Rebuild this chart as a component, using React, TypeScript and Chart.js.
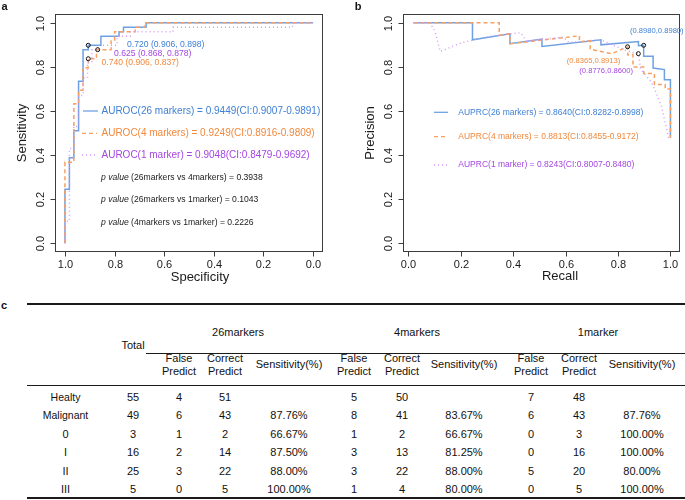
import React, { useEffect, useRef } from 'react';
import { Chart, registerables } from 'chart.js';
Chart.register(...registerables);

// ---------------- DATA ----------------
// ROC (panel a): specificity / sensitivity
const rocSpec26 = [1, 1, 0.982, 0.982, 0.964, 0.964, 0.945, 0.945, 0.927, 0.927, 0.906, 0.906, 0.855, 0.855, 0.782, 0.782, 0.764, 0.764, 0.673, 0.673, 0];
const rocSens26 = [0, 0.245, 0.245, 0.388, 0.388, 0.51, 0.51, 0.735, 0.735, 0.878, 0.878, 0.898, 0.898, 0.939, 0.939, 0.959, 0.959, 0.98, 0.98, 1.0, 1.0];
const rocSpec4 = [1, 1, 0.964, 0.964, 0.945, 0.945, 0.927, 0.927, 0.906, 0.906, 0.873, 0.873, 0.814, 0.814, 0.8, 0.8, 0.717, 0.717, 0.677, 0.677, 0];
const rocSens4 = [0, 0.367, 0.367, 0.633, 0.633, 0.694, 0.694, 0.796, 0.796, 0.837, 0.837, 0.878, 0.878, 0.918, 0.918, 0.959, 0.959, 0.98, 0.98, 1.0, 1.0];
const rocSpec1 = [1, 1, 0.982, 0.982, 0.964, 0.964, 0.945, 0.945, 0.927, 0.927, 0.909, 0.909, 0.891, 0.891, 0.868, 0.868, 0.79, 0.79, 0.737, 0.737, 0.564, 0.564, 0.083, 0.083, 0];
const rocSens1 = [0, 0.1, 0.1, 0.43, 0.43, 0.53, 0.53, 0.67, 0.67, 0.75, 0.75, 0.82, 0.82, 0.878, 0.878, 0.898, 0.898, 0.939, 0.939, 0.959, 0.959, 0.98, 0.98, 1.0, 1.0];
const rocThrSpec = [0.906, 0.868, 0.906];
const rocThrSens = [0.898, 0.878, 0.837];
const rocThrLabels = ['0.720 (0.906, 0.898)', '0.625 (0.868, 0.878)', '0.740 (0.906, 0.837)'];
const rocLegend = [
  'AUROC(26 markers) = 0.9449(CI:0.9007-0.9891)',
  'AUROC(4 markers) = 0.9249(CI:0.8916-0.9809)',
  'AUROC(1 marker) = 0.9048(CI:0.8479-0.9692)',
];
const pValueLabels = [
  '(26markers vs 4markers) = 0.3938',
  '(26markers vs 1marker) = 0.1043',
  '(4markers vs 1marker) = 0.2226',
];

// PR (panel b): recall / precision
const prRec26 = [0.02, 0.245, 0.245, 0.388, 0.388, 0.51, 0.51, 0.735, 0.735, 0.878, 0.878, 0.898, 0.898, 0.934, 0.934, 0.977, 0.977, 1.0, 1.0];
const prPrec26 = [1.0, 1.0, 0.923, 0.95, 0.905, 0.926, 0.893, 0.923, 0.9, 0.915, 0.896, 0.898, 0.848, 0.848, 0.795, 0.788, 0.742, 0.742, 0.48];
const prRec4 = [0.02, 0.347, 0.347, 0.388, 0.388, 0.653, 0.653, 0.694, 0.694, 0.776, 0.837, 0.837, 0.857, 0.857, 0.898, 0.898, 0.939, 0.939, 0.98, 0.98, 1.0, 1.0];
const prPrec4 = [1.0, 1.0, 0.944, 0.95, 0.905, 0.941, 0.914, 0.919, 0.88, 0.86, 0.891, 0.854, 0.857, 0.8, 0.8, 0.77, 0.77, 0.72, 0.72, 0.7, 0.7, 0.48];
const prRec1 = [0.02, 0.082, 0.102, 0.122, 0.204, 0.306, 0.429, 0.449, 0.592, 0.612, 0.735, 0.776, 0.837, 0.878, 0.886, 0.928, 0.953, 0.966, 0.985, 0.995];
const prPrec1 = [1.0, 1.0, 0.962, 0.87, 0.91, 0.938, 0.955, 0.917, 0.935, 0.91, 0.923, 0.9, 0.872, 0.86, 0.79, 0.73, 0.66, 0.62, 0.52, 0.47];
const prThrRec = [0.898, 0.8365, 0.8776];
const prThrPrec = [0.898, 0.8913, 0.86];
const prThrLabels = ['(0.8980,0.8980)', '(0.8365,0.8913)', '(0.8776,0.8600)'];
const prLegend = [
  'AUPRC(26 markers) = 0.8640(CI:0.8282-0.8998)',
  'AUPRC(4 markers) = 0.8813(CI:0.8455-0.9172)',
  'AUPRC(1 marker) = 0.8243(CI:0.8007-0.8480)',
];

const rocXTicks = [1.0, 0.8, 0.6, 0.4, 0.2, 0.0];
const rocXTickLabels = ['1.0', '0.8', '0.6', '0.4', '0.2', '0.0'];
const prXTicks = [0.0, 0.2, 0.4, 0.6, 0.8, 1.0];
const prXTickLabels = ['0.0', '0.2', '0.4', '0.6', '0.8', '1.0'];
const yTicks = [0.0, 0.2, 0.4, 0.6, 0.8, 1.0];
const yTickLabels = ['0.0', '0.2', '0.4', '0.6', '0.8', '1.0'];

// Table (panel c)
const groups = ['26markers', '4markers', '1marker'];
const rowNames = ['Healty', 'Malignant', '0', 'I', 'II', 'III'];
const totals = ['55', '49', '3', '16', '25', '5'];
const false26 = ['4', '6', '1', '2', '3', '0'];
const correct26 = ['51', '43', '2', '14', '22', '5'];
const sensPct26 = ['', '87.76%', '66.67%', '87.50%', '88.00%', '100.00%'];
const false4 = ['5', '8', '1', '3', '3', '1'];
const correct4 = ['50', '41', '2', '13', '22', '4'];
const sensPct4 = ['', '83.67%', '66.67%', '81.25%', '88.00%', '80.00%'];
const false1 = ['7', '6', '0', '0', '5', '0'];
const correct1 = ['48', '43', '3', '16', '20', '5'];
const sensPct1 = ['', '87.76%', '100.00%', '100.00%', '80.00%', '100.00%'];

// ---------------- STYLE ----------------
const FONT = '"Liberation Sans", Arial, Helvetica, sans-serif';
const BLUE = '#6fa1e2';
const BLUE_TXT = '#3f80d4';
const ORANGE = '#f6a062';
const ORANGE_TXT = '#f2883c';
const PURPLE = '#d49cf6';
const PURPLE_TXT = '#a446e2';
const DASH = [4, 3];
const DOT = [1, 3];

type TextItem = { text: string; x: number; y: number; color?: string; size?: number; align?: CanvasTextAlign; rotate?: boolean; italicPrefix?: string };
type LegendSample = { x1: number; x2: number; y: number; color: string; dash: number[] };
type DecorCfg = {
  offsetX: number;
  xTicks: number[];
  xLabels: string[];
  texts: TextItem[];
  samples: LegendSample[];
};

function makeDecor(cfg: DecorCfg) {
  return {
    id: 'decor',
    afterDraw(chart: any) {
      const ctx: CanvasRenderingContext2D = chart.ctx;
      const a = chart.chartArea;
      const xs = chart.scales.x;
      const ys = chart.scales.y;
      ctx.save();
      ctx.strokeStyle = '#3c3c3c';
      ctx.lineWidth = 1;
      ctx.setLineDash([]);
      const L = Math.round(a.left) + 0.5, T = Math.round(a.top) + 0.5;
      const R = Math.round(a.right) - 0.5, B = Math.round(a.bottom) - 0.5;
      ctx.strokeRect(L, T, R - L, B - T);
      ctx.fillStyle = '#1a1a1a';
      ctx.font = `11px ${FONT}`;
      ctx.textAlign = 'center';
      ctx.textBaseline = 'middle';
      cfg.xTicks.forEach((v, i) => {
        const px = Math.round(xs.getPixelForValue(v)) + 0.5;
        ctx.beginPath();
        ctx.moveTo(px, B);
        ctx.lineTo(px, B + 5);
        ctx.stroke();
        ctx.fillText(cfg.xLabels[i], px, B + 13);
      });
      yTicks.forEach((v, i) => {
        const py = Math.round(ys.getPixelForValue(v)) + 0.5;
        ctx.beginPath();
        ctx.moveTo(L, py);
        ctx.lineTo(L - 5, py);
        ctx.stroke();
        ctx.save();
        ctx.translate(L - 15, py);
        ctx.rotate(-Math.PI / 2);
        ctx.fillText(yTickLabels[i], 0, 0);
        ctx.restore();
      });
      cfg.samples.forEach((s) => {
        ctx.save();
        ctx.strokeStyle = s.color;
        ctx.lineWidth = 1.3;
        ctx.setLineDash(s.dash);
        ctx.beginPath();
        ctx.moveTo(s.x1 - cfg.offsetX, s.y);
        ctx.lineTo(s.x2 - cfg.offsetX, s.y);
        ctx.stroke();
        ctx.restore();
      });
      cfg.texts.forEach((t) => {
        ctx.save();
        ctx.fillStyle = t.color || '#1a1a1a';
        ctx.textBaseline = 'middle';
        ctx.textAlign = t.align || 'left';
        const size = t.size || 10;
        const x = t.x - cfg.offsetX;
        if (t.rotate) {
          ctx.translate(x, t.y);
          ctx.rotate(-Math.PI / 2);
          ctx.font = `${size}px ${FONT}`;
          ctx.fillText(t.text, 0, 0);
        } else if (t.italicPrefix) {
          ctx.font = `italic ${size}px ${FONT}`;
          ctx.textAlign = 'left';
          ctx.fillText(t.italicPrefix, x, t.y);
          const w = ctx.measureText(t.italicPrefix + ' ').width;
          ctx.font = `${size}px ${FONT}`;
          ctx.fillText(t.text, x + w, t.y);
        } else {
          ctx.font = `${size}px ${FONT}`;
          ctx.fillText(t.text, x, t.y);
        }
        ctx.restore();
      });
      ctx.restore();
    },
  };
}

function series(xv: number[], yv: number[], color: string, dash: number[], order: number, width = 1.4) {
  return {
    data: xv.map((x, i) => ({ x, y: yv[i] })),
    borderColor: color,
    borderWidth: width,
    borderDash: dash,
    pointRadius: 0,
    fill: false,
    tension: 0,
    order,
  };
}

function thresholdPoints(xv: number[], yv: number[]) {
  return {
    data: xv.map((x, i) => ({ x, y: yv[i] })),
    showLine: false,
    pointRadius: 2,
    pointBorderWidth: 1,
    pointBorderColor: '#111',
    pointBackgroundColor: 'rgba(0,0,0,0)',
    order: 0,
  };
}

function buildChart(canvas: HTMLCanvasElement, datasets: any[], pad: any, x: any, decor: any) {
  return new Chart(canvas, {
    type: 'line',
    data: { datasets },
    options: {
      responsive: false,
      animation: false,
      devicePixelRatio: 1,
      events: [],
      layout: { padding: pad },
      plugins: { legend: { display: false }, tooltip: { enabled: false }, title: { display: false } },
      scales: {
        x: { type: 'linear', display: false, ...x },
        y: { type: 'linear', display: false, min: -0.04, max: 1.04 },
      },
    } as any,
    plugins: [decor],
  });
}

export default function App() {
  const refA = useRef<HTMLCanvasElement>(null);
  const refB = useRef<HTMLCanvasElement>(null);

  useEffect(() => {
    const colors = [BLUE_TXT, PURPLE_TXT, ORANGE_TXT];
    const decorA = makeDecor({
      offsetX: 0,
      xTicks: rocXTicks,
      xLabels: rocXTickLabels,
      samples: [
        { x1: 83, x2: 98, y: 111, color: BLUE, dash: [] },
        { x1: 82, x2: 97, y: 133.3, color: ORANGE, dash: DASH },
        { x1: 82, x2: 97, y: 155, color: PURPLE, dash: DOT },
      ],
      texts: [
        { text: rocThrLabels[0], x: 127, y: 44.5, color: colors[0], size: 8.6 },
        { text: rocThrLabels[1], x: 114, y: 53.5, color: colors[1], size: 8.6 },
        { text: rocThrLabels[2], x: 101.5, y: 62.5, color: colors[2], size: 8.6 },
        { text: rocLegend[0], x: 101.5, y: 111, color: BLUE_TXT, size: 10 },
        { text: rocLegend[1], x: 101.5, y: 133.3, color: ORANGE_TXT, size: 10 },
        { text: rocLegend[2], x: 101.5, y: 155, color: PURPLE_TXT, size: 10 },
        { text: pValueLabels[0], italicPrefix: 'p value', x: 101, y: 177.7, size: 8.6 },
        { text: pValueLabels[1], italicPrefix: 'p value', x: 101, y: 200, size: 8.6 },
        { text: pValueLabels[2], italicPrefix: 'p value', x: 101, y: 222.3, size: 8.6 },
        { text: 'Specificity', x: 200, y: 277, size: 13, align: 'center' },
        { text: 'Sensitivity', x: 22, y: 133, size: 13, align: 'center', rotate: true },
      ],
    });
    const chartA = buildChart(
      refA.current!,
      [
        series(rocSpec26, rocSens26, BLUE, [], 3, 1.5),
        series(rocSpec4, rocSens4, ORANGE, DASH, 2, 1.5),
        series(rocSpec1, rocSens1, PURPLE, DOT, 1, 1.5),
        thresholdPoints(rocThrSpec, rocThrSens),
      ],
      { left: 55, right: 19, top: 14, bottom: 38 },
      { min: -0.04, max: 1.04, reverse: true },
      decorA
    );

    const decorB = makeDecor({
      offsetX: 342,
      xTicks: prXTicks,
      xLabels: prXTickLabels,
      samples: [
        { x1: 434, x2: 448, y: 112.3, color: BLUE, dash: [] },
        { x1: 434, x2: 448, y: 136.7, color: ORANGE, dash: DASH },
        { x1: 434, x2: 448, y: 165, color: PURPLE, dash: DOT },
      ],
      texts: [
        { text: prThrLabels[0], x: 630, y: 30.7, color: BLUE_TXT, size: 7.6 },
        { text: prThrLabels[1], x: 566.7, y: 61, color: ORANGE_TXT, size: 7.6 },
        { text: prThrLabels[2], x: 579.3, y: 71, color: PURPLE_TXT, size: 7.6 },
        { text: prLegend[0], x: 458.3, y: 112.3, color: BLUE_TXT, size: 8.5 },
        { text: prLegend[1], x: 458.3, y: 136.7, color: ORANGE_TXT, size: 8.5 },
        { text: prLegend[2], x: 458.3, y: 165, color: PURPLE_TXT, size: 8.5 },
        { text: 'Recall', x: 560, y: 276, size: 13, align: 'center' },
        { text: 'Precision', x: 370, y: 133, size: 13, align: 'center', rotate: true },
      ],
    });
    const chartB = buildChart(
      refB.current!,
      [
        series(prRec26, prPrec26, BLUE, [], 3, 1.5),
        series(prRec4, prPrec4, ORANGE, DASH, 2, 1.5),
        series(prRec1, prPrec1, PURPLE, DOT, 1, 1.5),
        thresholdPoints(prThrRec, prThrPrec),
      ],
      { left: 61, right: 1, top: 14, bottom: 38 },
      { min: -0.02, max: 1.0365 },
      decorB
    );
    return () => {
      chartA.destroy();
      chartB.destroy();
    };
  }, []);

  const rowY = [397, 415.4, 433.8, 452.2, 470.6, 489];
  const colX = { name: 65.5, total: 133 };
  const groupCols = [
    { f: 179, c: 225, s: 289, gx: 238, fv: false26, cv: correct26, sv: sensPct26 },
    { f: 354, c: 402, s: 464, gx: 417, fv: false4, cv: correct4, sv: sensPct4 },
    { f: 531, c: 579, s: 642, gx: 598, fv: false1, cv: correct1, sv: sensPct1 },
  ];
  const cell = (text: string, x: number, y: number, key: string, extra: any = {}) => (
    <div
      key={key}
      style={{
        position: 'absolute',
        left: x,
        top: y,
        transform: 'translate(-50%, -50%)',
        whiteSpace: 'nowrap',
        fontSize: 11,
        lineHeight: '13px',
        color: '#111',
        textAlign: 'center',
        ...extra,
      }}
    >
      {text}
    </div>
  );
  const rule = (top: number, left: number, h: number, key: string) => (
    <div key={key} style={{ position: 'absolute', top, left, width: 685 - left, height: h, background: '#1a1a1a' }} />
  );

  const cells: any[] = [];
  groupCols.forEach((g, gi) => {
    cells.push(cell(groups[gi], g.gx, 332, `g${gi}`));
    cells.push(cell('False', g.f, 357.5, `hf${gi}`));
    cells.push(cell('Predict', g.f, 370.5, `hf2${gi}`));
    cells.push(cell('Correct', g.c, 357.5, `hc${gi}`));
    cells.push(cell('Predict', g.c, 370.5, `hc2${gi}`));
    cells.push(cell('Sensitivity(%)', g.s, 364, `hs${gi}`));
    rowNames.forEach((_, ri) => {
      cells.push(cell(g.fv[ri], g.f, rowY[ri], `f${gi}-${ri}`));
      cells.push(cell(g.cv[ri], g.c, rowY[ri], `c${gi}-${ri}`));
      if (g.sv[ri]) cells.push(cell(g.sv[ri], g.s, rowY[ri], `s${gi}-${ri}`));
    });
  });
  rowNames.forEach((n, ri) => {
    cells.push(cell(n, colX.name, rowY[ri], `n${ri}`, ri < 2 ? { fontSize: 10.5 } : {}));
    cells.push(cell(totals[ri], colX.total, rowY[ri], `t${ri}`));
  });
  cells.push(cell('Total', colX.total, 345, 'total'));

  const panelLabel = (t: string, x: number, y: number) => (
    <div key={t} style={{ position: 'absolute', left: x, top: y, transform: 'translate(-50%, -50%)', fontWeight: 'bold', fontSize: 11, color: '#111' }}>{t}</div>
  );

  return (
    <div style={{ position: 'absolute', left: 0, top: 0, width: 685, height: 500, background: '#fff', fontFamily: FONT, overflow: 'hidden' }}>
      <canvas ref={refA} width={342} height={290} style={{ position: 'absolute', left: 0, top: 0, width: 342, height: 290 }} />
      <canvas ref={refB} width={343} height={290} style={{ position: 'absolute', left: 342, top: 0, width: 343, height: 290 }} />
      {panelLabel('a', 4.5, 6)}
      {panelLabel('b', 358, 5.5)}
      {panelLabel('c', 4, 305)}
      {rule(303, 27, 2, 'r1')}
      {rule(353, 146, 1, 'r2')}
      {rule(385, 27, 1, 'r3')}
      {rule(497, 27, 2, 'r4')}
      {cells}
    </div>
  );
}
